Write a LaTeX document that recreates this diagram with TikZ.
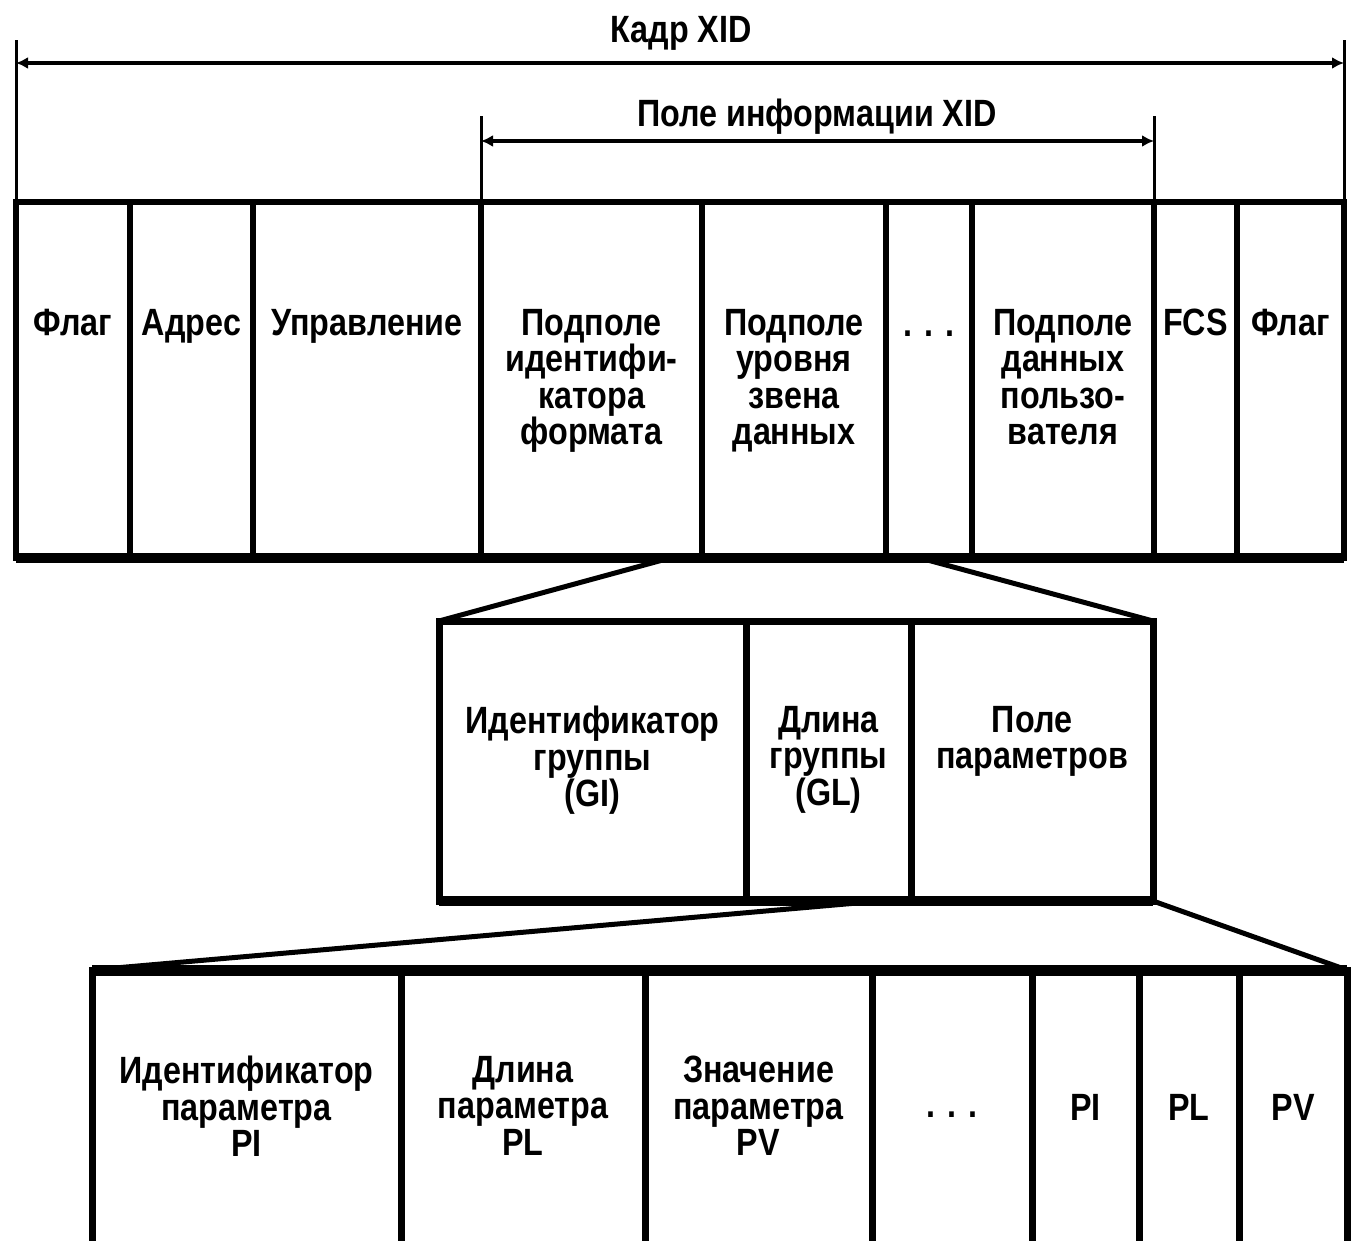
\documentclass[tikz,border=0pt]{standalone}
\usepackage{fontspec}
\setmainfont{Liberation Sans}[FakeStretch=0.85]
\usetikzlibrary{positioning,arrows.meta}
\begin{document}
\begin{tikzpicture}[x=1pt,y=1pt]
\tikzset{field/.style = {draw, rectangle, line width=6pt, inner sep=0pt, outer sep=0pt},
  txt/.style = {font=\fontsize{38}{36.5}\selectfont\bfseries, align=center, inner sep=0pt},
  dim/.style = {line width=4pt, {Latex[length=12pt,width=12pt]}-{Latex[length=12pt,width=12pt]}},
  ext/.style = {line width=3pt},
  zoomline/.style = {line width=5pt}}
\useasboundingbox (0,0) rectangle (1352,-1241);
\node[field, minimum width=114pt, minimum height=356pt] (flagA) at (73,-380) {};
\node[field, minimum width=123pt, minimum height=356pt] (addr) at (191.5,-380) {};
\node[field, minimum width=228pt, minimum height=356pt] (ctrl) at (367,-380) {};
\node[field, minimum width=221pt, minimum height=356pt] (fmt) at (591.5,-380) {};
\node[field, minimum width=184pt, minimum height=356pt] (link) at (794,-380) {};
\node[field, minimum width=86pt, minimum height=356pt] (dotsA) at (929,-380) {};
\node[field, minimum width=182pt, minimum height=356pt] (user) at (1063,-380) {};
\node[field, minimum width=83pt, minimum height=356pt] (fcs) at (1195.5,-380) {};
\node[field, minimum width=107pt, minimum height=356pt] (flagB) at (1290.5,-380) {};
\draw[line width=10pt] (flagA.south west) -- (flagB.south east);
\node[txt, below=107pt of flagA.north] (tflagA) {Флаг};
\node[txt, below=107pt of addr.north] (taddr) {Адрес};
\node[txt, below=107pt of ctrl.north] (tctrl) {Управление};
\node[txt, below=107pt of fmt.north] (tfmt) {Подполе\\идентифи-\\катора\\формата};
\node[txt, below=107pt of link.north] (tlink) {Подполе\\уровня\\звена\\данных};
\node[txt, below=128.5pt of dotsA.north] (tdotsA) {. . .};
\node[txt, below=107pt of user.north] (tuser) {Подполе\\данных\\пользо-\\вателя};
\node[txt, below=107pt of fcs.north] (tfcs) {FCS};
\node[txt, below=107pt of flagB.north] (tflagB) {Флаг};
\coordinate (frameL) at (16,-40);
\coordinate (frameR) at (1344,-40);
\coordinate (infoL) at (481,-116);
\coordinate (infoR) at (1154,-116);
\draw[ext] (flagA.north west) -- (frameL);
\draw[ext] (flagB.north east) -- (frameR);
\draw[ext] (fmt.north west) -- (infoL);
\draw[ext] (user.north east) -- (infoR);
\coordinate (arrL) at (16,-63);
\coordinate (arrR) at (1344,-63);
\coordinate (arrIL) at (481,-141);
\coordinate (arrIR) at (1154,-141);
\draw[dim] (arrL) -- (arrR);
\draw[dim] (arrIL) -- (arrIR);
\node[txt, anchor=base] (frame) at (681,-43) {Кадр XID};
\node[txt, anchor=base] (info) at (817,-127) {Поле информации XID};
\node[field, line width=7pt, minimum width=307pt, minimum height=280pt] (grpId) at (592.5,-761) {};
\node[field, line width=7pt, minimum width=165pt, minimum height=280pt] (grpLen) at (828.5,-761) {};
\node[field, line width=7pt, minimum width=242pt, minimum height=280pt] (params) at (1032,-761) {};
\draw[line width=10pt] (grpId.south west) -- (params.south east);
\node[txt, below=85pt of grpId.north] (tgrpId) {Идентификатор\\группы\\(GI)};
\node[txt, below=85pt of grpLen.north] (tgrpLen) {Длина\\группы\\(GL)};
\node[txt, below=85pt of params.north] (tparams) {Поле\\параметров};
\node[field, line width=7pt, minimum width=309pt, minimum height=300pt] (parId) at (246.5,-1120) {};
\node[field, line width=7pt, minimum width=244pt, minimum height=300pt] (parLen) at (523,-1120) {};
\node[field, line width=7pt, minimum width=227pt, minimum height=300pt] (parVal) at (758.5,-1120) {};
\node[field, line width=7pt, minimum width=160pt, minimum height=300pt] (dotsC) at (952,-1120) {};
\node[field, line width=7pt, minimum width=107pt, minimum height=300pt] (pi) at (1085.5,-1120) {};
\node[field, line width=7pt, minimum width=100pt, minimum height=300pt] (pl) at (1189,-1120) {};
\node[field, line width=7pt, minimum width=108pt, minimum height=300pt] (pv) at (1293,-1120) {};
\draw[line width=11pt] (parId.north west) -- (pv.north east);
\node[txt, below=86pt of parId.north] (tparId) {Идентификатор\\параметра\\PI};
\node[txt, below=86pt of parLen.north] (tparLen) {Длина\\параметра\\PL};
\node[txt, below=86pt of parVal.north] (tparVal) {Значение\\параметра\\PV};
\node[txt, below=141.5pt of dotsC.north] (tdotsC) {. . .};
\node[txt, below=124pt of pi.north] (tpi) {PI};
\node[txt, below=124pt of pl.north] (tpl) {PL};
\node[txt, below=124pt of pv.north] (tpv) {PV};
\coordinate (cutA) at (670,-558);
\coordinate (cutB) at (920,-558);
\coordinate (cutC) at (880,-901);
\draw[zoomline] (cutA) -- (grpId.north west);
\draw[zoomline] (cutB) -- (params.north east);
\draw[zoomline] (cutC) -- (parId.north west);
\draw[zoomline] (params.south east) -- (pv.north east);
\end{tikzpicture}
\end{document}
